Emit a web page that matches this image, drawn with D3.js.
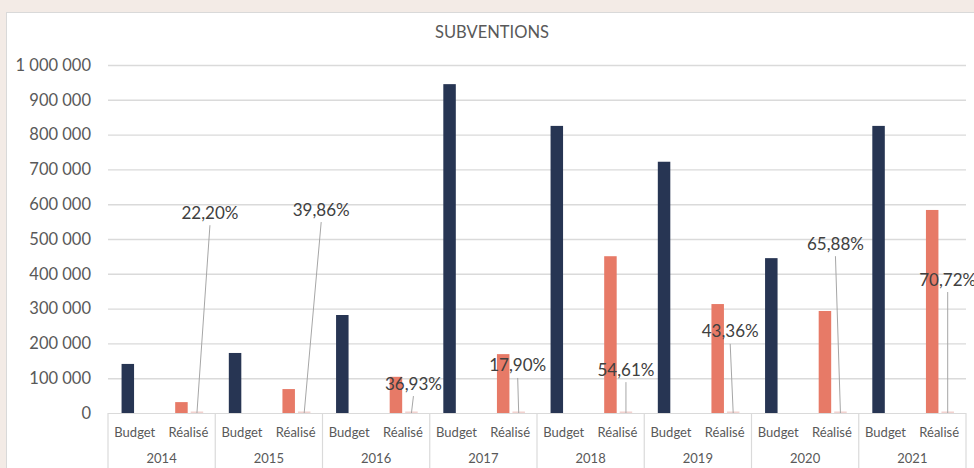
<!DOCTYPE html>
<html>
<head>
<meta charset="utf-8">
<script src="https://cdn.jsdelivr.net/npm/d3@7"></script>
<style>
	body {
		margin: 0;
		background: #f3ebe6;
	}

	svg {
		display: block;
		font-family: Lato, "Open Sans", sans-serif;
	}
</style>
</head>
<body>
<svg id="chart" width="974" height="468"></svg>
<script>
const years = ["2014", "2015", "2016", "2017", "2018", "2019", "2020", "2021"];
const kinds = ["Budget", "Réalisé"];
const budget = [141000, 172500, 281600, 945000, 825000, 722000, 445000, 825000];
const realise = [31300, 68760, 104000, 169155, 450530, 313060, 293170, 583440];
const taux = [22.2, 39.86, 36.93, 17.9, 54.61, 43.36, 65.88, 70.72];
const yTicks = d3.range(0, 1000001, 100000);

// where the % labels were dragged to in the workbook (value level, px shift)
const labelLevel = [577000, 586000, 86000, 138000, 126000, 236000, 488000, 385000];
const labelShift = [13, 17, 2, -1, 0, -3, -5, 0];

const theme = {
	left: 108,
	right: 966,
	top: 65,
	base: 413,
	bottom: 468,
	budgetColor: "#273553",
	realiseColor: "#e77a67",
	tauxColor: "#f2d2cf",
	gridColor: "#dadada",
	textColor: "#595959",
	leaderColor: "#a6a6a6",
};

const fr = d3.formatLocale({decimal: ",", thousands: " ", grouping: [3], currency: ["", " €"]});
const fmtNum = fr.format(",");
const fmtPct = (v) => fr.format(".2f")(v) + "%";

const svg = d3.select("#chart");

// white chart panel
svg.append("rect")
	.attr("x", 6.5)
	.attr("y", 12.5)
	.attr("width", 980)
	.attr("height", 470)
	.attr("fill", "#ffffff")
	.attr("stroke", "#d9d9d9");

svg.append("text")
	.attr("x", 492)
	.attr("y", 32)
	.attr("text-anchor", "middle")
	.attr("dominant-baseline", "central")
	.attr("fill", theme.textColor)
	.attr("font-size", 16.5)
	.text("SUBVENTIONS");

const y = d3.scaleLinear().domain([0, 1000000]).range([theme.base, theme.top]);
const x0 = d3.scaleBand().domain(years).range([theme.left, theme.right]);
const x1 = d3.scaleBand().domain(kinds).range([0, x0.bandwidth()]);
// two series slots inside each category: the amount and the rate
const xs = d3.scaleBand()
	.domain(["montant", "taux"])
	.range([-13.25, 14.75])
	.paddingInner(0.194);

const center = (year, kind) => x0(year) + x1(kind) + x1.bandwidth() / 2;

// y axis: gridlines + labels
const yAxis = svg.append("g")
	.attr("transform", `translate(${theme.left},0)`)
	.call(d3.axisLeft(y)
		.tickValues(yTicks)
		.tickFormat(fmtNum)
		.tickSize(-(theme.right - theme.left))
		.tickPadding(17));
yAxis.select(".domain").remove();
yAxis.selectAll("line")
	.attr("stroke", (d) => (d === 0 ? "none" : theme.gridColor))
	.attr("stroke-width", 1.4);
yAxis.selectAll("text")
	.attr("fill", theme.textColor)
	.attr("font-size", 16.5)
	.attr("font-family", "Lato, sans-serif");

// bars
const bars = svg.append("g");
bars.selectAll("rect.budget")
	.data(years)
	.join("rect")
	.attr("class", "budget")
	.attr("x", (d) => center(d, "Budget") + xs("montant"))
	.attr("width", xs.bandwidth())
	.attr("y", (d, i) => y(budget[i]))
	.attr("height", (d, i) => y(0) - y(budget[i]))
	.attr("fill", theme.budgetColor);

bars.selectAll("rect.realise")
	.data(years)
	.join("rect")
	.attr("class", "realise")
	.attr("x", (d) => center(d, "Réalisé") + xs("montant"))
	.attr("width", xs.bandwidth())
	.attr("y", (d, i) => y(realise[i]))
	.attr("height", (d, i) => y(0) - y(realise[i]))
	.attr("fill", theme.realiseColor);

// the rate series sits on the same axis, so it is only a sliver
bars.selectAll("rect.taux")
	.data(years)
	.join("rect")
	.attr("class", "taux")
	.attr("x", (d) => center(d, "Réalisé") + xs("taux"))
	.attr("width", xs.bandwidth())
	.attr("y", (d, i) => y(taux[i]) - 1.5)
	.attr("height", 2.5)
	.attr("fill", theme.tauxColor);

// category axis (two levels)
const cat = svg.append("g").attr("stroke", theme.gridColor).attr("stroke-width", 1.2);
cat.append("line")
	.attr("x1", theme.left)
	.attr("x2", theme.right)
	.attr("y1", theme.base + 0.5)
	.attr("y2", theme.base + 0.5);
cat.selectAll("line.sep")
	.data([...years.map((d) => x0(d)), theme.right])
	.join("line")
	.attr("class", "sep")
	.attr("x1", (d) => d)
	.attr("x2", (d) => d)
	.attr("y1", theme.base)
	.attr("y2", theme.bottom);

const catText = svg.append("g")
	.attr("fill", theme.textColor)
	.attr("font-size", 13)
	.attr("text-anchor", "middle")
	.attr("dominant-baseline", "central");
years.forEach((year) => {
	kinds.forEach((kind) => {
		catText.append("text")
			.attr("x", center(year, kind))
			.attr("y", 432)
			.text(kind);
	});
	catText.append("text")
		.attr("x", x0(year) + x0.bandwidth() / 2)
		.attr("y", 458)
		.text(year);
});

// percentage labels with leader lines
const labels = svg.append("g");
years.forEach((year, i) => {
	const px = center(year, "Réalisé") + xs("taux") + xs.bandwidth() / 2;
	const lx = px + labelShift[i];
	const ly = y(labelLevel[i]);

	labels.append("line")
		.attr("x1", lx)
		.attr("y1", ly + 13)
		.attr("x2", px)
		.attr("y2", y(0))
		.attr("stroke", theme.leaderColor)
		.attr("stroke-width", 1);

	labels.append("text")
		.attr("x", lx)
		.attr("y", ly)
		.attr("text-anchor", "middle")
		.attr("dominant-baseline", "central")
		.attr("fill", "#404040")
		.attr("font-size", 17)
		.text(fmtPct(taux[i]));
});
</script>
</body>
</html>
